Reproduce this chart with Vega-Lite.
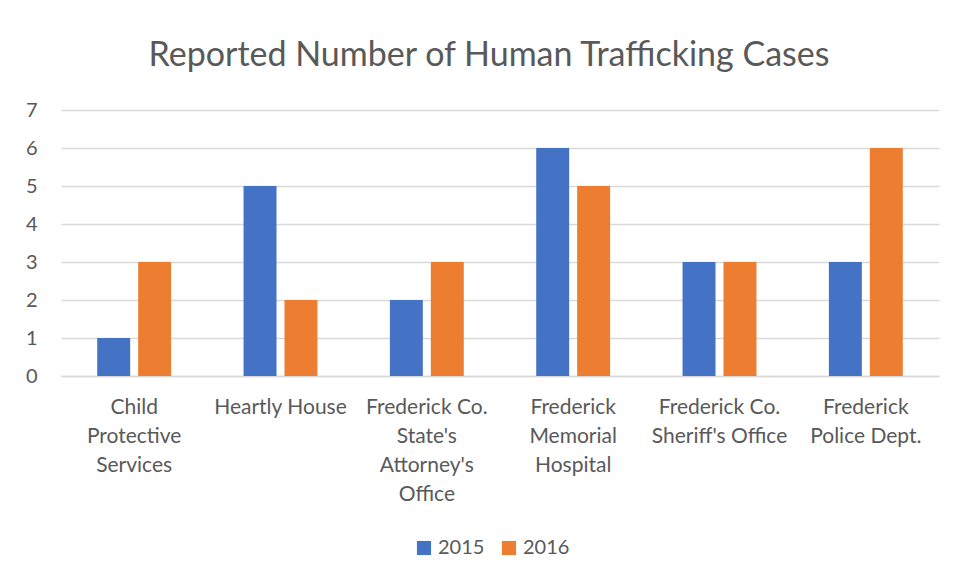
{
  "$schema": "https://vega.github.io/schema/vega-lite/v6.json",
  "autosize": {"type": "none"},
  "padding": {"left": 61, "top": 110, "right": 15, "bottom": 201},
  "width": 878,
  "height": 266,
  "background": "white",
  "title": {
    "text": "Reported Number of Human Trafficking Cases",
    "font": "Lato",
    "fontSize": 34,
    "fontWeight": "normal",
    "color": "#595959",
    "anchor": "middle",
    "dx": -11,
    "offset": 27
  },
  "data": {
    "values": [
      {"org": "Child|Protective|Services", "year": "2015", "cases": 1},
      {"org": "Child|Protective|Services", "year": "2016", "cases": 3},
      {"org": "Heartly House", "year": "2015", "cases": 5},
      {"org": "Heartly House", "year": "2016", "cases": 2},
      {"org": "Frederick Co.|State's|Attorney's|Office", "year": "2015", "cases": 2},
      {"org": "Frederick Co.|State's|Attorney's|Office", "year": "2016", "cases": 3},
      {"org": "Frederick|Memorial|Hospital", "year": "2015", "cases": 6},
      {"org": "Frederick|Memorial|Hospital", "year": "2016", "cases": 5},
      {"org": "Frederick Co.|Sheriff's Office", "year": "2015", "cases": 3},
      {"org": "Frederick Co.|Sheriff's Office", "year": "2016", "cases": 3},
      {"org": "Frederick|Police Dept.", "year": "2015", "cases": 3},
      {"org": "Frederick|Police Dept.", "year": "2016", "cases": 6}
    ]
  },
  "mark": {"type": "bar"},
  "encoding": {
    "x": {
      "field": "org",
      "type": "nominal",
      "sort": null,
      "scale": {"paddingInner": 0.495, "paddingOuter": 0.2475},
      "axis": {
        "title": null,
        "labelAngle": 0,
        "labelExpr": "split(datum.label, '|')",
        "labelFont": "Lato",
        "labelFontSize": 21,
        "labelColor": "#595959",
        "labelLineHeight": 29,
        "labelPadding": 20,
        "labelLimit": 0,
        "ticks": false,
        "domainColor": "#d9d9d9",
        "domainWidth": 1.5
      }
    },
    "xOffset": {
      "field": "year",
      "type": "nominal",
      "scale": {"paddingInner": 0.195, "paddingOuter": 0}
    },
    "y": {
      "field": "cases",
      "type": "quantitative",
      "scale": {"domain": [0, 7]},
      "axis": {
        "title": null,
        "tickCount": 7,
        "labelFont": "Lato",
        "labelFontSize": 20,
        "labelColor": "#595959",
        "labelPadding": 24,
        "ticks": false,
        "domain": false,
        "gridColor": "#d9d9d9",
        "gridWidth": 1.5
      }
    },
    "color": {
      "field": "year",
      "type": "nominal",
      "scale": {"domain": ["2015", "2016"], "range": ["#4472C4", "#ED7D31"]},
      "legend": {
        "title": null,
        "orient": "none",
        "legendX": 353,
        "legendY": 428,
        "direction": "horizontal",
        "symbolType": "square",
        "symbolSize": 200,
        "symbolStrokeWidth": 0,
        "labelFont": "Lato",
        "labelFontSize": 20,
        "labelColor": "#595959",
        "columnPadding": 14
      }
    }
  },
  "config": {"view": {"stroke": null}}
}
